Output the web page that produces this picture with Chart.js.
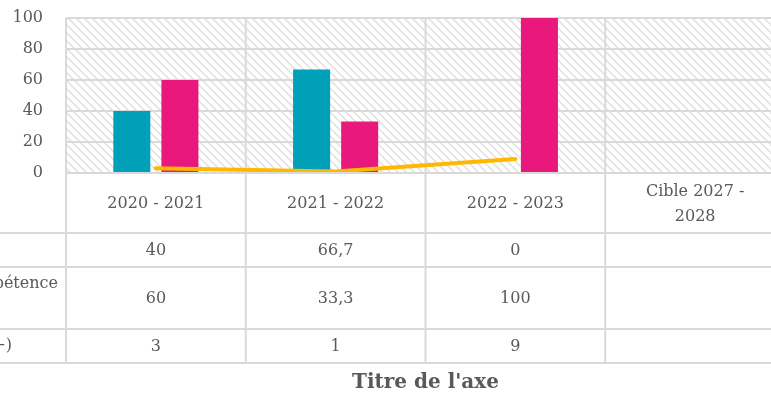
<!DOCTYPE html>
<html lang="fr">
<head>
<meta charset="utf-8">
<title>Compétences par année scolaire</title>
<script src="https://cdn.jsdelivr.net/npm/chart.js@4.4.1/dist/chart.umd.min.js"></script>
<style>
    html, body { margin: 0; padding: 0; background: #ffffff; overflow: hidden; }
    #wrap { position: absolute; top: 0; left: -270px; width: 1060px; height: 394px; }
</style>
</head>
<body>
<div id="wrap"><canvas id="chart" width="1060" height="394"></canvas></div>
<script>
// Categories (school years) and series values
const categories = ['2020 - 2021', '2021 - 2022', '2022 - 2023', ['Cible 2027 -', '2028']];
const seriesNames = [
    ['Compétence acquise (%)'],
    ['Pas de maîtrise de la compétence', '(%)'],
    ["Nombre d'élèves (16 ans +)"]
];
const acquisValues = [40, 66.7, 0, null];
const nonAcquisValues = [60, 33.3, 100, null];
const effectifValues = [3, 1, 9, null];
const yTicks = [0, 20, 40, 60, 80, 100];

const COLORS = ['#00A0B9', '#E8187C', '#FFB800'];
const TEXT = '#595959';
const GRID = '#d9d9d9';
const FONT = '"DejaVu Serif", serif';
const OFF = 270; // part of the canvas hidden on the left (row labels column)

// Hatched background pattern for the plot area
function makeHatch() {
    const c = document.createElement('canvas');
    c.width = 8; c.height = 8;
    const g = c.getContext('2d');
    g.strokeStyle = '#e3e3e3';
    g.lineWidth = 1.6;
    g.beginPath();
    g.moveTo(-2, -2); g.lineTo(10, 10);
    g.moveTo(-2, 6); g.lineTo(2, 10);
    g.moveTo(6, -2); g.lineTo(10, 2);
    g.stroke();
    return c;
}

function fmt(v) {
    if (v === null || v === undefined) return '';
    return String(v).replace('.', ',');
}

const tablePlugin = {
    id: 'dataTable',
    beforeDraw(chart) {
        const { ctx, chartArea: a } = chart;
        ctx.save();
        ctx.fillStyle = ctx.createPattern(makeHatch(), 'repeat');
        ctx.fillRect(a.left, a.top, a.right - a.left, a.bottom - a.top);
        ctx.restore();
    },
    beforeDatasetsDraw(chart) {
        const { ctx, chartArea: a } = chart;
        const catW = (a.right - a.left) / categories.length;
        const tableBottom = 363;
        ctx.save();
        ctx.strokeStyle = GRID;
        ctx.lineWidth = 2;
        ctx.beginPath();
        for (let i = 0; i <= categories.length; i++) {
            const px = a.left + i * catW;
            ctx.moveTo(px, a.top);
            ctx.lineTo(px, tableBottom);
        }
        ctx.stroke();
        ctx.restore();
    },
    afterDraw(chart) {
        const { ctx, chartArea: a, scales: { x } } = chart;
        const rows = [
            { top: 233, bottom: 267, values: acquisValues },
            { top: 267, bottom: 329, values: nonAcquisValues },
            { top: 329, bottom: 363, values: effectifValues }
        ];
        ctx.save();
        ctx.strokeStyle = GRID;
        ctx.lineWidth = 2;
        ctx.beginPath();
        ctx.moveTo(a.left, a.bottom); ctx.lineTo(chart.width, a.bottom);
        rows.forEach(r => { ctx.moveTo(0, r.top); ctx.lineTo(chart.width, r.top); });
        ctx.moveTo(0, 363); ctx.lineTo(chart.width, 363);
        ctx.moveTo(1, 233); ctx.lineTo(1, 363);
        ctx.stroke();

        ctx.fillStyle = TEXT;
        ctx.textAlign = 'center';
        ctx.textBaseline = 'middle';
        ctx.font = '16px ' + FONT;

        // category header row
        categories.forEach((c, i) => {
            const cx = x.getPixelForValue(i);
            const lines = Array.isArray(c) ? c : [c];
            const lh = 25;
            const y0 = 204 - (lines.length - 1) * lh / 2;
            lines.forEach((l, j) => ctx.fillText(l, cx, y0 + j * lh));
        });

        // value rows
        rows.forEach(r => {
            const cy = (r.top + r.bottom) / 2 + 1;
            r.values.forEach((v, i) => ctx.fillText(fmt(v), x.getPixelForValue(i), cy));
        });

        // row labels with legend keys
        ctx.textAlign = 'left';
        const lblX = (OFF + 58) - ctx.measureText(seriesNames[1][0]).width;
        rows.forEach((r, k) => {
            const lines = seriesNames[k];
            const lh = 24;
            const cy = (r.top + r.bottom) / 2;
            const y0 = cy - (lines.length - 1) * lh / 2 - (lines.length > 1 ? 2 : 0);
            ctx.fillStyle = COLORS[k];
            ctx.fillRect(lblX - 16, cy - 4, 8, 8);
            ctx.fillStyle = TEXT;
            lines.forEach((l, j) => ctx.fillText(l, lblX, y0 + j * lh));
        });

        // axis title
        ctx.textAlign = 'center';
        ctx.font = 'bold 20px ' + FONT;
        ctx.fillText("Titre de l'axe", (a.left + a.right) / 2, 383);
        ctx.restore();
    }
};

const ctx = document.getElementById('chart').getContext('2d');
new Chart(ctx, {
    type: 'bar',
    data: {
        labels: categories,
        datasets: [
            {
                label: seriesNames[0].join(' '),
                data: acquisValues,
                backgroundColor: COLORS[0],
                categoryPercentage: 0.535,
                barPercentage: 0.77,
                order: 2
            },
            {
                label: seriesNames[1].join(' '),
                data: nonAcquisValues,
                backgroundColor: COLORS[1],
                categoryPercentage: 0.535,
                barPercentage: 0.77,
                order: 2
            },
            {
                type: 'line',
                label: seriesNames[2].join(' '),
                data: effectifValues,
                borderColor: COLORS[2],
                borderWidth: 4,
                borderCapStyle: 'round',
                pointRadius: 0,
                tension: 0,
                order: 0
            }
        ]
    },
    options: {
        responsive: false,
        animation: false,
        layout: { padding: { left: OFF, top: 18, right: 5, bottom: 221 } },
        scales: {
            x: { display: false },
            y: {
                min: 0,
                max: 100,
                afterBuildTicks: scale => { scale.ticks = yTicks.map(v => ({ value: v })); },
                afterFit: scale => {
                    scale.width = 66;
                    // the tick padding is horizontal only, keep it out of the vertical layout
                    scale.paddingTop = 0;
                    scale.paddingBottom = 0;
                },
                ticks: {
                    color: TEXT,
                    padding: 23,
                    font: { family: FONT, size: 16 }
                },
                grid: { color: GRID, lineWidth: 2, drawTicks: false },
                border: { display: false }
            }
        },
        plugins: {
            legend: { display: false },
            tooltip: { enabled: false }
        }
    },
    plugins: [tablePlugin]
});
</script>
</body>
</html>
